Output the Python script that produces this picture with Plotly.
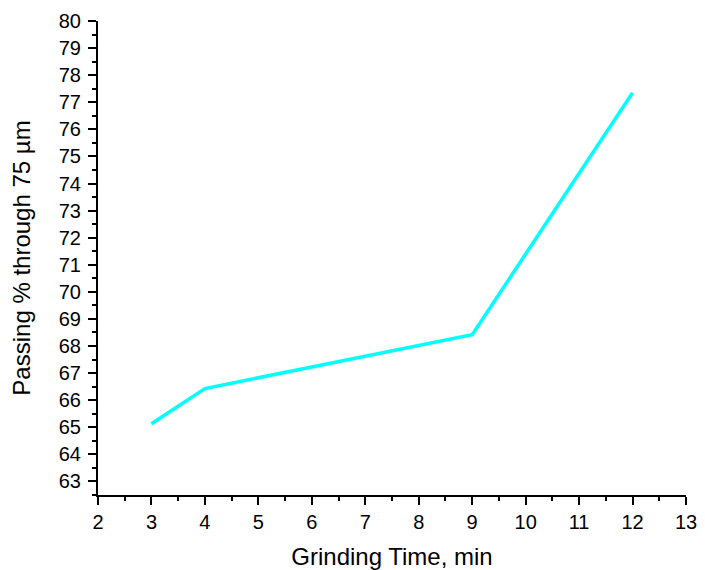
import plotly.graph_objects as go

grinding_time = [3, 4, 9, 12]
passing_pct = [65.13, 66.43, 68.42, 77.35]

FONT = "Liberation Sans, Arial, sans-serif"

fig = go.Figure()
fig.add_trace(go.Scatter(x=grinding_time, y=passing_pct, mode="lines",
                         line=dict(color="#00FFFF", width=3.5), showlegend=False))

def axis_style():
    return dict(
        automargin=False,
        showline=True, linecolor="black", linewidth=2, mirror=False,
        ticks="outside", ticklen=8, tickwidth=2, tickcolor="black",
        showgrid=False, zeroline=False,
        tickfont=dict(family=FONT, size=20, color="black"),
        minor=dict(dtick=0.5, ticklen=4, tickwidth=2, tickcolor="black", ticks="outside"),
    )

fig.update_layout(
    width=697, height=562,
    paper_bgcolor="white", plot_bgcolor="white",
    margin=dict(l=90, r=19, t=13, b=75),
)
fig.update_xaxes(range=[2, 13], dtick=1, tick0=2,
                 title=dict(text="Grinding Time, min", standoff=16,
                            font=dict(family=FONT, size=24, color="black")),
                 **axis_style())
fig.update_yaxes(range=[62.5, 80], dtick=1, tick0=63, ticklabelstandoff=3,
                 title=dict(text="Passing % through 75 µm", standoff=21,
                            font=dict(family=FONT, size=24, color="black")),
                 **axis_style())

fig.write_html("out.html")
